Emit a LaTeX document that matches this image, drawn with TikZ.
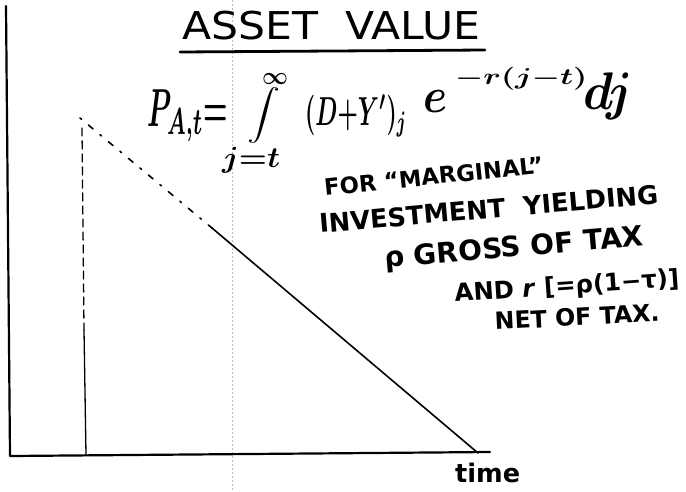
\documentclass[tikz,border=0pt]{standalone}
\usepackage{fontspec}
\setmainfont{DejaVu Sans}
\usepackage{graphicx}
\tikzset{
  axis/.style={line width=2.2pt, line cap=round, line join=round},
  thinline/.style={line width=1.3pt, line cap=round},
  diagline/.style={line width=1.6pt, line cap=round},
  scanline/.style={gray!55, line width=0.5pt, dash pattern=on 1.5pt off 2.5pt},
  note/.style={anchor=base west, inner sep=0pt, font=\bfseries},
  fpart/.style={inner sep=0pt, anchor=north west, font=\boldmath},
}
\begin{document}
\begin{tikzpicture}[x=1pt,y=-1pt]
\useasboundingbox (0,0) rectangle (686,491);
% scan artifact
\coordinate (s1) at (232,0);
\coordinate (s2) at (232,491);
\draw[scanline] (s1) -- (s2);
% axes
\coordinate (ytop) at (6,6);
\coordinate (O) at (10,456);
\coordinate (xend) at (490,452);
\draw[axis] (ytop) -- (O) -- (xend);
% inner vertical
\coordinate (v1) at (82,128);
\coordinate (v2) at (84,330);
\coordinate (v3) at (86,455);
\draw[thinline, dash pattern=on 8pt off 5pt] (v1) -- (v2);
\draw[thinline] (v2) -- (v3);
% diagonal
\coordinate (d1) at (80,118);
\coordinate (d2) at (212,228);
\coordinate (d3) at (478,453);
\draw[diagline, dash pattern=on 2pt off 9pt on 6pt off 9pt] (d1) -- (d2);
\draw[diagline] (d2) -- (d3);
% title
\node[inner sep=0pt, anchor=north west] (title) at (182,11) {\resizebox*{298pt}{29pt}{ASSET\ \ VALUE}};
\coordinate (u1) at (180,52);
\coordinate (u2) at (485,50);
\draw[line width=2.8pt, line cap=round] (u1) -- (u2);
% formula, in parts
\node[fpart] (P) at (147,90) {\resizebox*{81pt}{52pt}{$P_{A,t}{=}$}};
\node[fpart] (int) at (247,87) {\resizebox*{33pt}{56pt}{$\displaystyle\int$}};
\node[fpart] (inf) at (262,73) {\resizebox*{26pt}{11pt}{$\infty$}};
\node[fpart] (lim) at (222,147) {\resizebox*{58pt}{26pt}{$j{=}t$}};
\node[fpart] (DY) at (305,95) {\resizebox*{102pt}{42pt}{$(D{+}Y')_j$}};
\node[fpart] (e) at (423,90) {\resizebox*{24pt}{22pt}{$e$}};
\node[fpart] (ex) at (455,67) {\resizebox*{132pt}{23pt}{$-r(j{-}t)$}};
\node[fpart] (dj) at (583,73) {\resizebox*{50pt}{47pt}{$dj$}};
% notes
\node[note, rotate=6] (n1) at (325,196) {\resizebox{220pt}{!}{FOR “MARGINAL”}};
\node[note, rotate=5] (n2) at (320,233) {\resizebox{340pt}{!}{INVESTMENT\ \ YIELDING}};
\node[note, rotate=5] (n3) at (385,268) {\resizebox{260pt}{!}{ρ GROSS OF TAX}};
\node[note, rotate=4] (n4) at (455,302) {\resizebox{225pt}{!}{AND \textit{r} [=ρ(1−τ)]}};
\node[note, rotate=3] (n5) at (495,330) {\resizebox{165pt}{!}{NET OF TAX.}};
\node[note] (time) at (455,482) {\resizebox{65pt}{!}{time}};
\end{tikzpicture}
\end{document}
